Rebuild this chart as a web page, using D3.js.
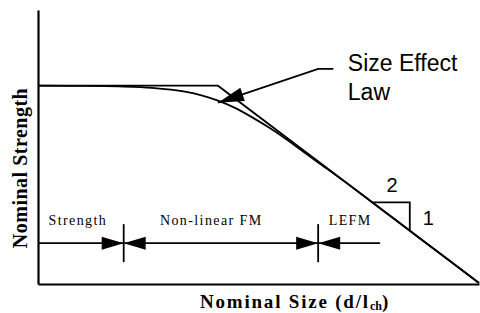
<!DOCTYPE html>
<html>
<head>
<meta charset="utf-8">
<script src="https://cdn.jsdelivr.net/npm/d3@7"></script>
<style>
  body { margin: 0; background: #fff; }
  svg { display: block; }
  .serif { font-family: "Liberation Serif", "Times New Roman", serif; }
  .sans { font-family: "Liberation Sans", Arial, sans-serif; }
</style>
</head>
<body>
<div id="chart"></div>
<script>
var w = 480;
var h = 313;

// log10(size/d0) and log10(strength/B)
var logSize     = [-2.73, -2, -1.5, -1, -0.5, -0.25, 0, 0.25, 0.5, 0.75, 1, 1.25, 1.5, 2, 2.5, 3, 3.5, 3.96];
var logStrength = [0, -0.002, -0.007, -0.021, -0.06, -0.097, -0.15, -0.22, -0.31, -0.41, -0.52, -0.64, -0.76, -1.0, -1.25, -1.5, -1.75, -1.98];

// strength plateau + LEFM asymptote (slope -1/2)
var asymX = [-2.73, 0, 3.96];
var asymY = [0, 0, -1.98];

// regime boundaries and labels
var zoneEdges = [-1.43, 1.52];
var zoneLineEnd = 2.46;
var zoneLevel = -1.58;
var zoneNames = ['Strength', 'Non-linear FM', 'LEFM'];
var zoneLabelX = [-2.57, -0.88, 1.68];

// 2:1 slope triangle on the asymptote
var slopeL = [2.34, 2.91];

var margin = {top: 10, right: 1, bottom: 29, left: 38};
var innerW = w - margin.left - margin.right,
  innerH = h - margin.top - margin.bottom;

var x = d3.scaleLinear()
  .domain([-2.73, 3.96])
  .range([0, innerW]);
var y = d3.scaleLinear()
  .domain([-1.99, 0.76])
  .range([innerH, 0]);

var svg = d3.select('#chart')
  .append('svg')
    .attr('width', w)
    .attr('height', h)
  .append('g')
    .attr('transform', 'translate(' + [margin.left, margin.top] + ')');

// axes: domain lines only
var xAxis = d3.axisBottom(x).ticks(0).tickSizeOuter(0);
var yAxis = d3.axisLeft(y).ticks(0).tickSizeOuter(0);
svg.append('g')
  .attr('transform', 'translate(0,' + innerH + ')')
  .call(xAxis)
  .select('.domain').attr('stroke-width', 2.2);
svg.append('g')
  .call(yAxis)
  .select('.domain').attr('stroke-width', 2.2);

var line = d3.line()
  .x(function(d) { return x(d[0]); })
  .y(function(d) { return y(d[1]); });

svg.append('path')
  .datum(d3.zip(asymX, asymY))
  .attr('d', line)
  .attr('fill', 'none')
  .attr('stroke', '#000')
  .attr('stroke-width', 1.8);

svg.append('path')
  .datum(d3.zip(logSize, logStrength))
  .attr('d', line.curve(d3.curveMonotoneX))
  .attr('fill', 'none')
  .attr('stroke', '#000')
  .attr('stroke-width', 1.8);
line.curve(d3.curveLinear);

// slope triangle
var tri = [[slopeL[0], -0.5 * slopeL[0]], [slopeL[1], -0.5 * slopeL[0]], [slopeL[1], -0.5 * slopeL[1]]];
svg.append('path')
  .datum(tri)
  .attr('d', line)
  .attr('fill', 'none')
  .attr('stroke', '#000')
  .attr('stroke-width', 1.8);

svg.append('text').attr('class', 'sans')
  .attr('x', x((slopeL[0] + slopeL[1]) / 2) + 1)
  .attr('y', y(-0.5 * slopeL[0]) - 10)
  .attr('text-anchor', 'middle')
  .style('font-size', '20px')
  .text('2');
svg.append('text').attr('class', 'sans')
  .attr('x', x(slopeL[1]) + 13)
  .attr('y', y(-1.40))
  .style('font-size', '20px')
  .text('1');

// "Size Effect Law" leader with arrow
var leader = [[1.75, 0.17], [1.52, 0.17], [0, -0.17]];
svg.append('path')
  .datum(leader)
  .attr('d', line)
  .attr('fill', 'none')
  .attr('stroke', '#000')
  .attr('stroke-width', 1.8);

var tip = [x(leader[2][0]), y(leader[2][1])],
  from = [x(leader[1][0]), y(leader[1][1])];
var ang = Math.atan2(tip[1] - from[1], tip[0] - from[0]) * 180 / Math.PI;
svg.append('path')
  .attr('transform', 'translate(' + tip + ') rotate(' + ang + ')')
  .attr('d', 'M0,0L-26,-7L-26,7Z')
  .attr('fill', '#000');

var sel = svg.append('text').attr('class', 'sans')
  .style('font-size', '23px');
sel.append('tspan').attr('x', x(1.97)).attr('y', y(0.15)).text('Size Effect');
sel.append('tspan').attr('x', x(1.97)).attr('y', y(-0.14)).text('Law');

// regime line with boundary arrows
svg.append('line')
  .attr('x1', x(-2.73)).attr('x2', x(zoneLineEnd))
  .attr('y1', y(zoneLevel)).attr('y2', y(zoneLevel))
  .attr('stroke', '#000')
  .attr('stroke-width', 1.8);

var edge = svg.selectAll('.edge')
  .data(zoneEdges)
  .enter().append('g')
    .attr('class', 'edge')
    .attr('transform', function(d) { return 'translate(' + [x(d), y(zoneLevel)] + ')'; });
edge.append('line')
  .attr('y1', -19).attr('y2', 19)
  .attr('stroke', '#000')
  .attr('stroke-width', 1.8);
edge.append('path')
  .attr('d', 'M-22,-6.5L0,0L-22,6.5Z M22,-6.5L0,0L22,6.5Z')
  .attr('fill', '#000');

svg.selectAll('.zone')
  .data(zoneNames)
  .enter().append('text')
    .attr('class', 'zone serif')
    .attr('x', function(d, i) { return x(zoneLabelX[i]); })
    .attr('y', y(-1.40))
    .style('font-size', '14px')
    .style('letter-spacing', '1.4px')
    .text(function(d) { return d; });

// axis titles
var xt = svg.append('text').attr('class', 'serif')
  .attr('x', 257)
  .attr('y', innerH + 24)
  .attr('text-anchor', 'middle')
  .style('font-size', '19px')
  .style('font-weight', 'bold')
  .style('letter-spacing', '1.8px');
xt.append('tspan').text('Nominal Size (d/l');
xt.append('tspan').attr('dy', 2).style('font-size', '12px').style('letter-spacing', '0px').text('ch');
xt.append('tspan').attr('dy', -2).text(')');

svg.append('text').attr('class', 'serif')
  .attr('transform', 'translate(' + [-11, 158] + ') rotate(-90)')
  .attr('text-anchor', 'middle')
  .style('font-size', '20px')
  .style('font-weight', 'bold')
  .style('letter-spacing', '0.5px')
  .text('Nominal Strength');
</script>
</body>
</html>
